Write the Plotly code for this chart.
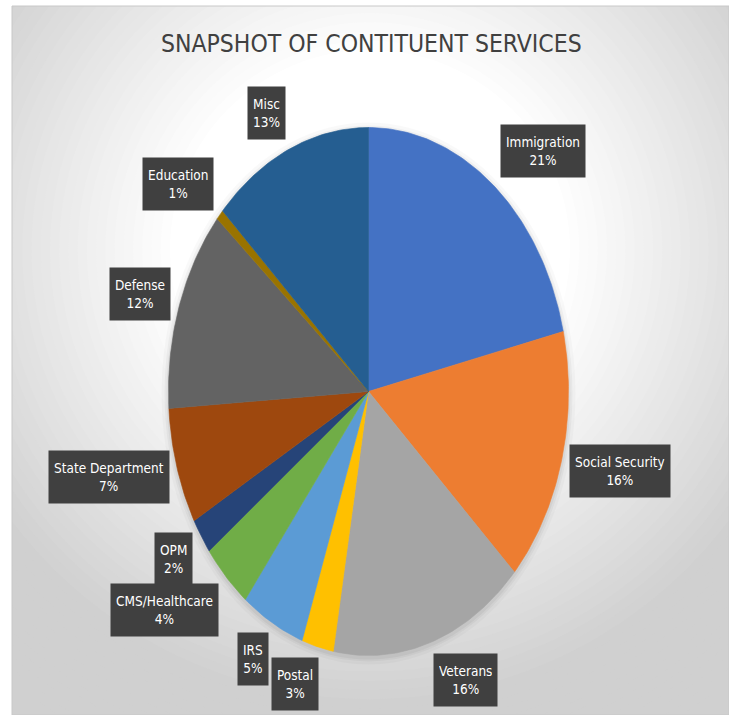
import numpy as np
import plotly.graph_objects as go

# ---- data ----
categories = ["Immigration", "Social Security", "Veterans", "Postal", "IRS",
              "CMS/Healthcare", "OPM", "State Department", "Defense",
              "Education", "Misc"]
values = [21.35, 15.64, 15.83, 2.57, 5.17, 4.12, 2.18, 7.12, 12.37, 0.64, 13.01]
colors = ["#4472C4", "#ED7D31", "#A5A5A5", "#FFC000", "#5B9BD5", "#70AD47",
          "#264478", "#9E480E", "#636363", "#997300", "#255E91"]
title_text = "SNAPSHOT OF CONTITUENT SERVICES"

# ---- layout constants (pixel space) ----
CX, CY, RX, RY = 368.5, 391.5, 200.0, 264.0
label_x = [543, 619.5, 465.5, 295, 252.5, 164, 173.5, 108.7, 140, 178, 266.5]
label_y = [151, 470.5, 680, 684, 658.5, 609.5, 559, 476.7, 294, 184, 112.5]

W, H = 729, 715
X0, Y0 = 12, 6
FONT = "DejaVu Sans Condensed, Roboto, sans-serif"

fig = go.Figure()

total = float(sum(values))
start = 0.0
for name, v, c in zip(categories, values, colors):
    frac = v / total
    th = np.linspace(start, start + frac, max(4, int(frac * 400))) * 2 * np.pi
    xs = np.concatenate([[CX], CX + RX * np.sin(th), [CX]])
    ys = np.concatenate([[CY], CY - RY * np.cos(th), [CY]])
    fig.add_trace(go.Scatter(x=xs, y=ys, mode="lines", fill="toself",
                             fillcolor=c, line=dict(color=c, width=0.6),
                             name=name, hoverinfo="name", showlegend=False))
    start += frac

shapes = []
bg_cx, bg_cy = 370, 250
radii = np.linspace(560, 200, 40)
for r in radii:
    lvl = 255 - 45 * (r - 200) / 250
    lvl = int(max(208, min(255, lvl)))
    shapes.append(dict(type="circle", xref="x", yref="y", layer="below",
                       x0=bg_cx - r, x1=bg_cx + r, y0=bg_cy - r, y1=bg_cy + r,
                       fillcolor=f"rgb({lvl},{lvl},{lvl})", line=dict(width=0)))
for d, op in [(7, 0.025), (4, 0.035), (2, 0.045)]:
    shapes.append(dict(type="circle", xref="x", yref="y", layer="below",
                       x0=CX - RX - d, x1=CX + RX + d, y0=CY - RY - d + 2,
                       y1=CY + RY + d + 2,
                       fillcolor=f"rgba(0,0,0,{op})", line=dict(width=0)))
shapes.append(dict(type="rect", xref="paper", yref="paper", layer="above",
                   x0=0, x1=1, y0=0, y1=1, line=dict(color="#c8c8c8", width=1)))

annotations = [dict(x=371, y=43, xref="x", yref="y", text=title_text,
                    showarrow=False, xanchor="center", yanchor="middle",
                    font=dict(family=FONT, size=24.5, color="#404040"))]
for name, v, lx, ly in zip(categories, values, label_x, label_y):
    pct = round(v / total * 100)
    annotations.append(dict(x=lx, y=ly, xref="x", yref="y",
                            text=f"{name}<br>{pct}%",
                            showarrow=False, xanchor="center", yanchor="middle",
                            height=42, borderpad=5, bgcolor="#404040",
                            font=dict(family=FONT, size=13.5, color="#ffffff")))

fig.update_layout(
    width=W, height=H,
    margin=dict(l=X0, r=0, t=Y0, b=0),
    paper_bgcolor="#ffffff", plot_bgcolor="#d0d0d0",
    xaxis=dict(range=[X0, W], visible=False, fixedrange=True),
    yaxis=dict(range=[H, Y0], visible=False, fixedrange=True),
    shapes=shapes, annotations=annotations, showlegend=False,
)

fig.write_html("out.html", config={"displayModeBar": False},
               post_script="document.body.style.margin='0';"
                           "document.body.style.overflow='hidden';")
